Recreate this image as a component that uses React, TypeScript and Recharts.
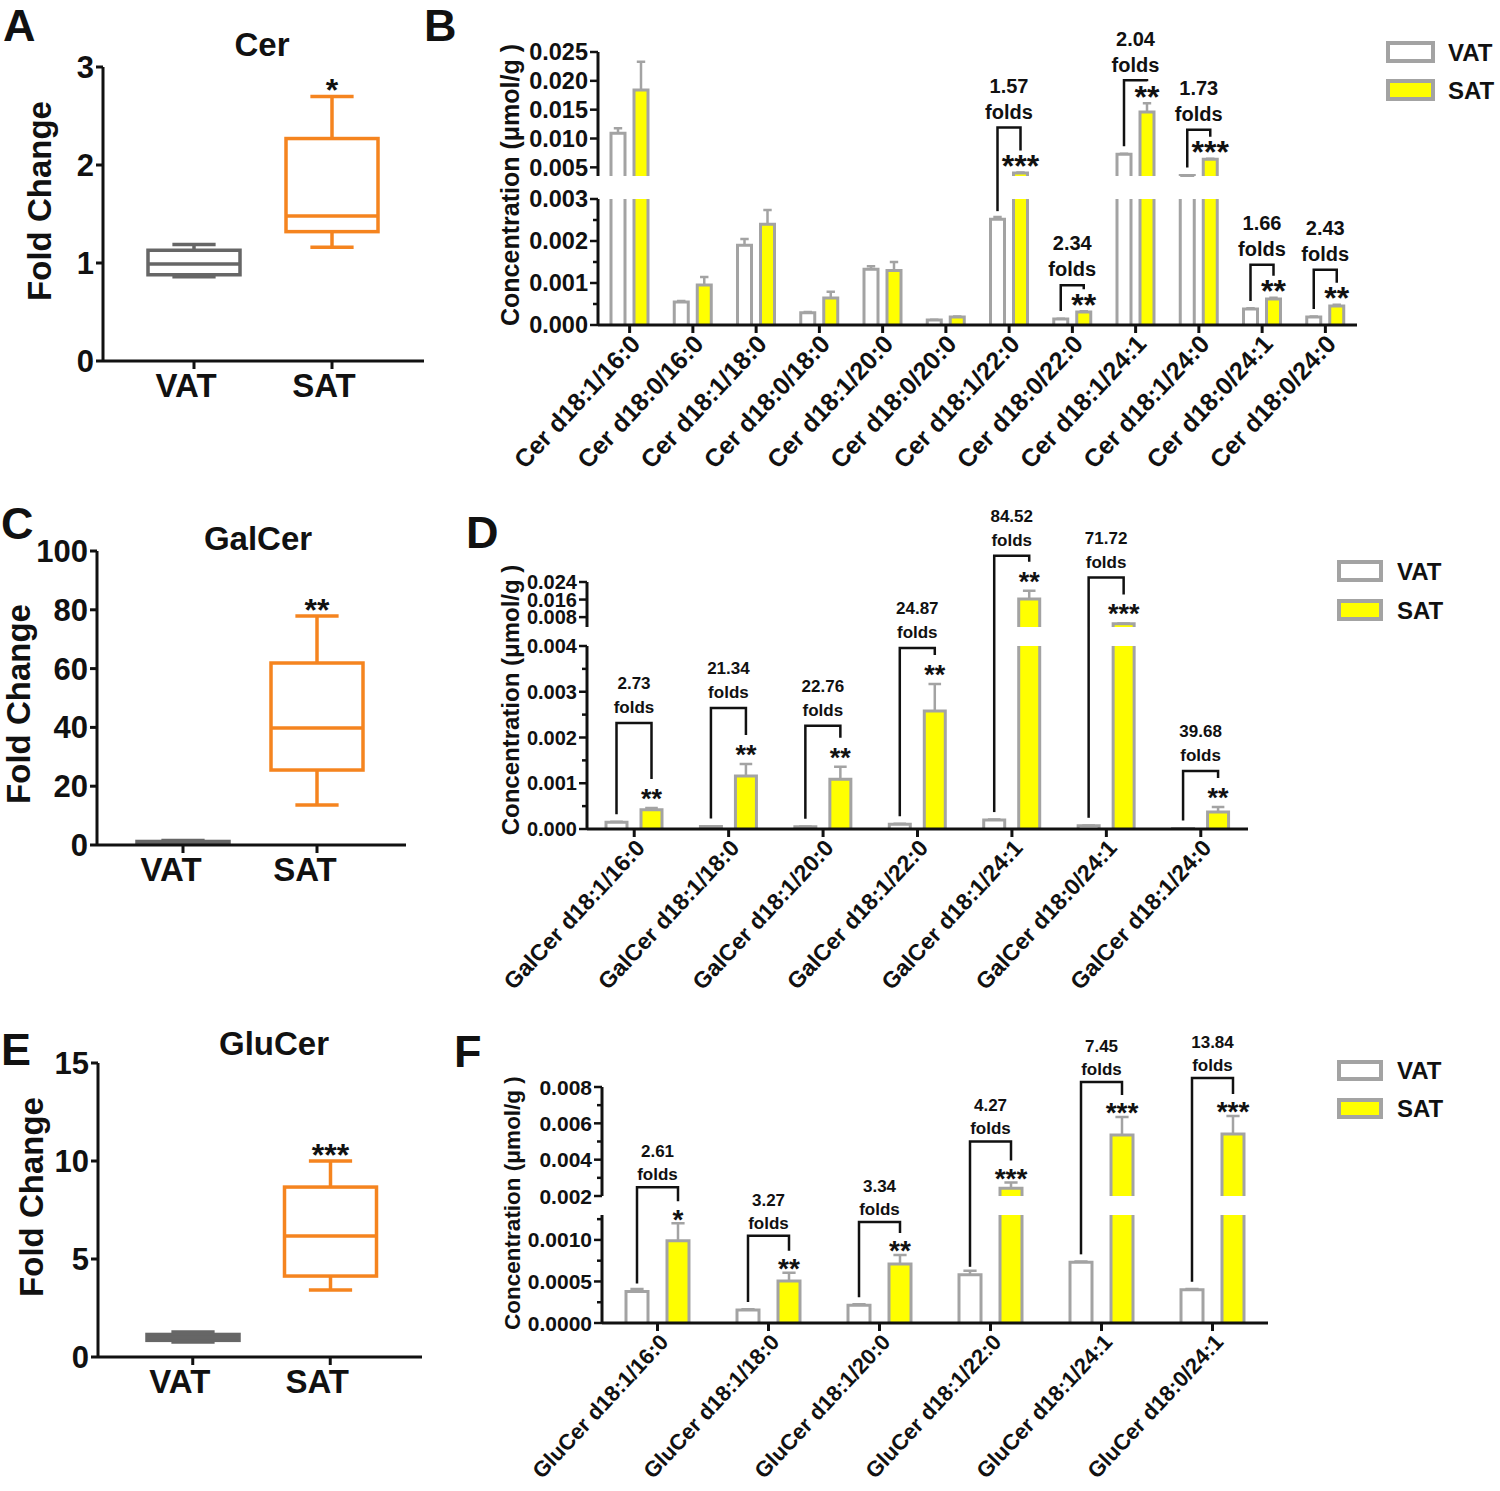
import React from "react";
import { BarChart, Bar, XAxis, YAxis, LabelList } from "recharts";

const FONT = "'Liberation Sans', Arial, Helvetica, sans-serif";
const INK = "#111111";
const EDGE = "#a3a3a3";
const YELLOW = "#ffff00";
const BOX_GRAY = "#666666";
const BOX_ORANGE = "#f5841f";

const GROUPS = ["VAT", "SAT"];

// box plots, each [min, q1, median, q3, max]
const CER_VAT_BOX = [0.86, 0.88, 0.99, 1.13, 1.19];
const CER_SAT_BOX = [1.16, 1.32, 1.48, 2.27, 2.7];
const CER_STARS = ["", "*"];
const GALCER_VAT_BOX = [0.6, 0.8, 1.0, 1.2, 1.5];
const GALCER_SAT_BOX = [13.6, 25.5, 39.8, 61.9, 77.9];
const GALCER_STARS = ["", "**"];
const GLUCER_VAT_BOX = [0.77, 0.85, 1.0, 1.15, 1.28];
const GLUCER_SAT_BOX = [3.42, 4.13, 6.17, 8.67, 10.0];
const GLUCER_STARS = ["", "***"];

// panel B: Cer species (umol/g)
const CER_SPECIES = [
  "Cer d18:1/16:0", "Cer d18:0/16:0", "Cer d18:1/18:0", "Cer d18:0/18:0",
  "Cer d18:1/20:0", "Cer d18:0/20:0", "Cer d18:1/22:0", "Cer d18:0/22:0",
  "Cer d18:1/24:1", "Cer d18:1/24:0", "Cer d18:0/24:1", "Cer d18:0/24:0",
];
const CER_VAT = [0.0109, 0.00055, 0.0019, 0.00029, 0.00133, 0.00012, 0.00252, 0.00014, 0.00726, 0.0036, 0.00038, 0.00019];
const CER_VAT_SD = [0.0009, 0.00002, 0.00015, 0.00002, 0.00007, 0.000005, 0.00005, 0.00001, 0.0001, 0.00002, 0.00002, 0.00001];
const CER_SAT = [0.0184, 0.00095, 0.0024, 0.00064, 0.0013, 0.00019, 0.004, 0.00031, 0.0146, 0.0064, 0.00062, 0.00045];
const CER_SAT_SD = [0.0049, 0.00019, 0.00034, 0.00015, 0.0002, 0.00001, 0.0001, 0.00002, 0.0015, 0.0001, 0.00003, 0.00003];
const CER_FOLDS = ["", "", "", "", "", "", "1.57", "2.34", "2.04", "1.73", "1.66", "2.43"];
const CER_SIG = ["", "", "", "", "", "", "***", "**", "**", "***", "**", "**"];

// panel D: GalCer species
const GALCER_SPECIES = [
  "GalCer d18:1/16:0", "GalCer d18:1/18:0", "GalCer d18:1/20:0", "GalCer d18:1/22:0",
  "GalCer d18:1/24:1", "GalCer d18:0/24:1", "GalCer d18:1/24:0",
];
const GALCER_VAT = [0.00015, 0.000054, 0.000048, 0.000104, 0.000195, 0.00007, 0.0000095];
const GALCER_VAT_SD = [0.00001, 0.000005, 0.000005, 0.00001, 0.00001, 0.000005, 0];
const GALCER_SAT = [0.00042, 0.00116, 0.00109, 0.00258, 0.0162, 0.005, 0.00037];
const GALCER_SAT_SD = [0.00004, 0.00026, 0.00027, 0.00059, 0.0038, 0.0001, 0.00011];
const GALCER_FOLDS = ["2.73", "21.34", "22.76", "24.87", "84.52", "71.72", "39.68"];
const GALCER_SIG = ["**", "**", "**", "**", "**", "***", "**"];

// panel F: GluCer species
const GLUCER_SPECIES = [
  "GluCer d18:1/16:0", "GluCer d18:1/18:0", "GluCer d18:1/20:0",
  "GluCer d18:1/22:0", "GluCer d18:1/24:1", "GluCer d18:0/24:1",
];
const GLUCER_VAT = [0.00038, 0.000155, 0.000215, 0.00058, 0.00073, 0.0004];
const GLUCER_VAT_SD = [0.00003, 0.00001, 0.00001, 0.00005, 0.00001, 0.00001];
const GLUCER_SAT = [0.00099, 0.000506, 0.00071, 0.00242, 0.00536, 0.00541];
const GLUCER_SAT_SD = [0.00021, 0.0001, 0.00011, 0.00033, 0.00099, 0.001];
const GLUCER_FOLDS = ["2.61", "3.27", "3.34", "4.27", "7.45", "13.84"];
const GLUCER_SIG = ["*", "**", "**", "***", "***", "***"];

// how far (px) each fold bracket sits above its SAT error bar
const CER_RISE = [0, 0, 0, 0, 0, 0, 45, 26, 23, 29, 33, 35];
const GALCER_RISE = [85, 56, 41, 36, 35, 46, 36];
const GLUCER_RISE = [36, 37, 33, 41, 35, 38];

const boxRows = (vat: number[], sat: number[], stars: string[]) =>
  GROUPS.map((g, i) => {
    const b = i === 0 ? vat : sat;
    return { group: g, range: [b[0], b[4]], min: b[0], q1: b[1], med: b[2], q3: b[3], max: b[4], stars: stars[i] };
  });

const speciesRows = (names: string[], vat: number[], vatSd: number[], sat: number[], satSd: number[], folds: string[], sig: string[]) =>
  names.map((name, i) => ({ idx: i, name, vat: vat[i], vatSd: vatSd[i], sat: sat[i], satSd: satSd[i], folds: folds[i], stars: sig[i] }));

// ---------- box plots ----------
const BoxShape = (props: any) => {
  const { x, y, width, height, payload } = props;
  if (!payload) return null;
  const { min, q1, med, q3, max } = payload;
  const py = (v: number) => y + ((max - v) / (max - min)) * height;
  const cx = x + width / 2;
  const cap = width * 0.47;
  const color = payload.group === "VAT" ? BOX_GRAY : BOX_ORANGE;
  return (
    <g stroke={color} strokeWidth={3.5} fill="none">
      <line x1={cx} x2={cx} y1={py(max)} y2={py(q3)} />
      <line x1={cx} x2={cx} y1={py(q1)} y2={py(min)} />
      <line x1={cx - cap / 2} x2={cx + cap / 2} y1={py(max)} y2={py(max)} />
      <line x1={cx - cap / 2} x2={cx + cap / 2} y1={py(min)} y2={py(min)} />
      <rect x={x} y={py(q3)} width={width} height={Math.max(py(q1) - py(q3), 0.5)} fill="#fff" />
      <line x1={x} x2={x + width} y1={py(med)} y2={py(med)} />
    </g>
  );
};

const BoxStars = (props: any) => {
  const vb = props.viewBox || props;
  if (!props.value) return null;
  const fs = 32;
  return (
    <text x={vb.x + vb.width / 2} y={vb.y - 13 + fs * 0.55} textAnchor="middle" fontSize={fs} fontWeight={700} fontFamily={FONT} fill={INK}>
      {props.value}
    </text>
  );
};

function GroupTick(props: any) {
  const { x, y, payload, dx } = props;
  return (
    <text x={x + dx} y={y} dy={26} textAnchor="middle" fontSize={33} fontWeight={700} fontFamily={FONT} fill={INK}>
      {payload.value}
    </text>
  );
}

function BoxChart(p: any) {
  const axis = { stroke: INK, strokeWidth: 3 };
  return (
    <div style={{ position: "absolute", left: p.left, top: p.top }}>
      <BarChart width={p.width} height={p.height} data={p.rows} margin={{ top: p.mt, right: p.mr, bottom: 0, left: 0 }} barSize={92}>
        <XAxis dataKey="group" padding={p.pad} height={p.xh} interval={0} tickSize={8} tickMargin={2} axisLine={axis} tickLine={axis} tick={<GroupTick dx={p.labelDx} />} />
        <YAxis type="number" domain={p.domain} ticks={p.ticks} width={p.yw} interval={0} tickSize={7} tickMargin={2} axisLine={axis} tickLine={axis}
          tick={{ fontSize: 31, fontWeight: 700, fill: INK, fontFamily: FONT }} />
        <Bar dataKey="range" shape={BoxShape} isAnimationActive={false}>
          <LabelList dataKey="stars" content={BoxStars} />
        </Bar>
      </BarChart>
    </div>
  );
}

// ---------- broken-axis bar charts ----------
function BrokenYTick(props: any) {
  const { x, y, payload, majors, digits, fs } = props;
  const v = payload.value;
  const major = majors.some((m: number) => Math.abs(m - v) < 1e-9);
  const len = major ? 8 : 5;
  return (
    <g>
      <line x1={x} x2={x - len} y1={y} y2={y} stroke={INK} strokeWidth={2.5} />
      {major && (
        <text x={x - len - 2} y={y} dy="0.36em" textAnchor="end" fontSize={fs} fontWeight={700} fontFamily={FONT} fill={INK}>
          {v.toFixed(digits)}
        </text>
      )}
    </g>
  );
}

function RotTick(props: any) {
  const { x, y, payload, fs } = props;
  const ax = x + 12;
  const ay = y + 10;
  return (
    <text x={ax} y={ay} transform={`rotate(-47 ${ax} ${ay})`} textAnchor="end" fontSize={fs} fontWeight={700} fontFamily={FONT} fill={INK}>
      {payload.value}
    </text>
  );
}

const barShape = (fill: string, valKey: string, errKey: string, cutKey: string, base: number, capW: number) => (props: any) => {
  const { x, y, width, height, payload } = props;
  if (!payload || payload[valKey] == null || !(height > 0)) return null;
  const v = payload[valKey];
  const ppu = height / (v - base);
  const cut = payload[cutKey];
  const err = payload[errKey] || 0;
  const cx = x + width / 2;
  const ey = y - err * ppu;
  const outline = cut
    ? `M${x},${y + height}V${y}M${x + width},${y}V${y + height}`
    : `M${x},${y + height}V${y}H${x + width}V${y + height}`;
  return (
    <g>
      <rect x={x} y={y} width={width} height={height} fill={fill} />
      <path d={outline} stroke={EDGE} strokeWidth={3} fill="none" />
      {!cut && err > 0 && (
        <path d={`M${cx},${y}V${ey}M${cx - capW / 2},${ey}H${cx + capW / 2}`} stroke={EDGE} strokeWidth={2.5} fill="none" />
      )}
    </g>
  );
};

function annoMarks(cx: number, vx: number, tip: number, rise: number, leftBottom: number, r: any, c: any) {
  const top = tip - rise;
  const mid = (cx + vx) / 2;
  const txt = { textAnchor: "middle" as const, fontWeight: 700, fontFamily: FONT, fill: INK };
  return (
    <g>
      <path d={`M${vx},${leftBottom}V${top}H${cx}V${tip - c.legOff}`} stroke={INK} strokeWidth={2.5} fill="none" />
      <text x={mid} y={top - c.numGap + c.fs * 0.36} fontSize={c.fs} {...txt}>{r.folds}</text>
      <text x={mid} y={top - c.foldsGap + c.fs * 0.36} fontSize={c.fs} {...txt}>folds</text>
      <text x={cx} y={tip - c.starOff + c.starFs * 0.55} fontSize={c.starFs} {...txt}>{r.stars}</text>
    </g>
  );
}

function BrokenBars(p: any) {
  const rows = p.rows;
  const tMin = p.topDomain[0];
  const bMax = p.botDomain[1];
  const gap = p.botPlot[0] - p.topPlot[1];
  const step = p.barSize + p.barGap;
  const c = p.anno;
  const capW = p.barSize * 0.6;

  const topRows = rows.map((r: any) => ({
    ...r,
    vat: r.vat >= tMin ? r.vat : null,
    sat: r.sat >= tMin ? r.sat : null,
    vatCut: false,
    satCut: false,
  }));
  const botRows = rows.map((r: any) => ({
    ...r,
    vat: Math.min(r.vat, bMax),
    sat: Math.min(r.sat, bMax),
    vatCut: r.vat > bMax,
    satCut: r.sat > bMax,
  }));

  const topAnno = (props: any) => {
    const vb = props.viewBox || props;
    const r = rows[props.value];
    if (!r || !r.folds || r.sat <= bMax) return null;
    const base = vb.y + vb.height;
    const ppu = vb.height / (r.sat - tMin);
    const cx = vb.x + vb.width / 2;
    const tip = vb.y - r.satSd * ppu;
    const leftBottom = r.vat >= tMin ? base - (r.vat - tMin) * ppu - c.vatDrop : base;
    return annoMarks(cx, cx - step, tip, p.rises[r.idx], leftBottom, r, c);
  };

  const botAnno = (props: any) => {
    const vb = props.viewBox || props;
    const r = rows[props.value];
    if (!r || !r.folds || r.sat > bMax || !(vb.height > 0)) return null;
    const base = vb.y + vb.height;
    const ppu = vb.height / r.sat;
    const cx = vb.x + vb.width / 2;
    const tip = vb.y - r.satSd * ppu;
    const leftBottom = base - r.vat * ppu - c.vatDrop;
    return annoMarks(cx, cx - step, tip, p.rises[r.idx], leftBottom, r, c);
  };

  // lower piece of a bracket leg whose SAT bar sits in the upper segment
  const botLeg = (props: any) => {
    const vb = props.viewBox || props;
    const r = rows[props.value];
    if (!r || !r.folds || r.sat <= bMax || r.vat >= tMin || !(vb.height > 0)) return null;
    const base = vb.y + vb.height;
    const ppu = vb.height / r.vat;
    const plotTop = base - bMax * ppu;
    const cx = vb.x + vb.width / 2;
    return <path d={`M${cx},${vb.y - c.vatDrop}V${plotTop - gap}`} stroke={INK} strokeWidth={2.5} fill="none" />;
  };

  const axis = { stroke: INK, strokeWidth: 3 };
  const wrap = { position: "absolute" as const, left: 0, top: 0 };
  const common = { width: p.width, barSize: p.barSize, barGap: p.barGap };

  return (
    <div style={{ position: "absolute", left: p.left, top: p.top, width: p.width, height: p.height }}>
      <div style={wrap}>
        <BarChart {...common} height={p.height} data={botRows}
          margin={{ top: p.botPlot[0] - p.top, right: p.mr, bottom: 0, left: 0 }}>
          <XAxis dataKey="name" interval={0} height={p.top + p.height - p.botPlot[1]} tickSize={8} tickMargin={2}
            axisLine={axis} tickLine={axis} tick={<RotTick fs={p.labelFs} />} />
          <YAxis type="number" domain={p.botDomain} ticks={[...p.botMajor, ...p.botMinor]} width={p.yw} interval={0}
            tickSize={0} tickMargin={0} tickLine={false} axisLine={axis}
            tick={<BrokenYTick majors={p.botMajor} digits={p.botDigits} fs={p.tickFs} />} />
          <Bar dataKey="vat" isAnimationActive={false} shape={barShape("#ffffff", "vat", "vatSd", "vatCut", 0, capW)}>
            <LabelList dataKey="idx" content={botLeg} />
          </Bar>
          <Bar dataKey="sat" isAnimationActive={false} shape={barShape(YELLOW, "sat", "satSd", "satCut", 0, capW)}>
            <LabelList dataKey="idx" content={botAnno} />
          </Bar>
        </BarChart>
      </div>
      <div style={wrap}>
        <BarChart {...common} height={p.height} data={topRows}
          margin={{ top: p.topPlot[0] - p.top, right: p.mr, bottom: p.top + p.height - p.topPlot[1], left: 0 }}>
          <XAxis dataKey="name" hide />
          <YAxis type="number" domain={p.topDomain} ticks={[...p.topMajor, ...p.topMinor]} width={p.yw} interval={0}
            tickSize={0} tickMargin={0} tickLine={false} axisLine={axis}
            tick={<BrokenYTick majors={p.topMajor} digits={p.topDigits} fs={p.tickFs} />} />
          <Bar dataKey="vat" isAnimationActive={false} shape={barShape("#ffffff", "vat", "vatSd", "vatCut", tMin, capW)} />
          <Bar dataKey="sat" isAnimationActive={false} shape={barShape(YELLOW, "sat", "satSd", "satCut", tMin, capW)}>
            <LabelList dataKey="idx" content={topAnno} />
          </Bar>
        </BarChart>
      </div>
    </div>
  );
}

// ---------- titles, axis names and legends ----------
function LegendMarks({ x, y, w, h, dy, textX, fs }: any) {
  const t = { fontSize: fs, fontWeight: 700, fontFamily: FONT, fill: INK };
  return (
    <g>
      {GROUPS.map((g, i) => (
        <g key={g}>
          <rect x={x} y={y + i * dy} width={w} height={h} fill={i === 0 ? "#ffffff" : YELLOW} stroke={EDGE} strokeWidth={4} />
          <text x={textX} y={y + i * dy + h / 2} dy="0.36em" {...t}>{g}</text>
        </g>
      ))}
    </g>
  );
}

function Overlay() {
  const b = { fontWeight: 700, fontFamily: FONT, fill: INK };
  const letters: [string, number, number][] = [["A", 3, 41], ["B", 424, 41], ["C", 1, 539], ["D", 466, 548], ["E", 1, 1065], ["F", 454, 1067]];
  const titles: [string, number, number][] = [["Cer", 262, 56], ["GalCer", 258, 550], ["GluCer", 274, 1055]];
  const foldLabels: [number, number][] = [[51, 201], [30, 704], [43, 1197]];
  const concLabels: [number, number, number][] = [[519, 185, 25], [519, 700, 24], [520, 1203, 22.5]];
  return (
    <svg width={1500} height={1491} style={{ position: "absolute", left: 0, top: 0, pointerEvents: "none" }}>
      {letters.map(([t, x, y]) => (
        <text key={t} x={x} y={y} fontSize={45} {...b}>{t}</text>
      ))}
      {titles.map(([t, x, y]) => (
        <text key={t} x={x} y={y} fontSize={33} textAnchor="middle" {...b}>{t}</text>
      ))}
      {foldLabels.map(([x, y]) => (
        <text key={y} x={x} y={y} fontSize={33} textAnchor="middle" transform={`rotate(-90 ${x} ${y})`} {...b}>Fold Change</text>
      ))}
      {concLabels.map(([x, y, fs]) => (
        <text key={y} x={x} y={y} fontSize={fs} textAnchor="middle" transform={`rotate(-90 ${x} ${y})`} {...b}>Concentration (μmol/g )</text>
      ))}
      <LegendMarks x={1388} y={43} w={45} h={18} dy={38} textX={1448} fs={24} />
      <LegendMarks x={1339} y={562} w={42} h={18} dy={39} textX={1397} fs={24} />
      <LegendMarks x={1339} y={1062} w={42} h={17} dy={38} textX={1397} fs={24} />
    </svg>
  );
}

export default function App() {
  const cerRows = speciesRows(CER_SPECIES, CER_VAT, CER_VAT_SD, CER_SAT, CER_SAT_SD, CER_FOLDS, CER_SIG);
  const galRows = speciesRows(GALCER_SPECIES, GALCER_VAT, GALCER_VAT_SD, GALCER_SAT, GALCER_SAT_SD, GALCER_FOLDS, GALCER_SIG);
  const gluRows = speciesRows(GLUCER_SPECIES, GLUCER_VAT, GLUCER_VAT_SD, GLUCER_SAT, GLUCER_SAT_SD, GLUCER_FOLDS, GLUCER_SIG);

  return (
    <div style={{ position: "absolute", left: 0, top: 0, width: 1500, height: 1491, background: "#fff", overflow: "hidden", fontFamily: FONT }}>
      <BoxChart left={0} top={0} width={440} height={420} yw={103} mr={16} mt={67} xh={59} pad={{ left: 22, right: 23 }}
        rows={boxRows(CER_VAT_BOX, CER_SAT_BOX, CER_STARS)} domain={[0, 3]} ticks={[0, 1, 2, 3]} labelDx={-8} />
      <BoxChart left={0} top={490} width={440} height={420} yw={97} mr={34} mt={61} xh={65} pad={{ left: 19, right: 22 }}
        rows={boxRows(GALCER_VAT_BOX, GALCER_SAT_BOX, GALCER_STARS)} domain={[0, 100]} ticks={[0, 20, 40, 60, 80, 100]} labelDx={-12} />
      <BoxChart left={0} top={1000} width={440} height={420} yw={98} mr={18} mt={63} xh={63} pad={{ left: 26, right: 23 }}
        rows={boxRows(GLUCER_VAT_BOX, GLUCER_SAT_BOX, GLUCER_STARS)} domain={[0, 15]} ticks={[0, 5, 10, 15]} labelDx={-13} />

      <BrokenBars rows={cerRows} left={480} top={0} width={900} height={490} yw={118} mr={23}
        topPlot={[52, 176]} botPlot={[199, 325]} topDomain={[0.0035, 0.025]} botDomain={[0, 0.003]}
        topMajor={[0.005, 0.01, 0.015, 0.02, 0.025]} topMinor={[]} botMajor={[0, 0.001, 0.002, 0.003]} botMinor={[0.0005, 0.0015, 0.0025]}
        topDigits={3} botDigits={3} tickFs={23.5} labelFs={25} barSize={14} barGap={9} rises={CER_RISE}
        anno={{ fs: 20, starFs: 32, starOff: 13, legOff: 22, foldsGap: 16, numGap: 42, vatDrop: 8 }} />

      <BrokenBars rows={galRows} left={470} top={490} width={800} height={510} yw={117} mr={22}
        topPlot={[582, 627]} botPlot={[646, 829]} topDomain={[0.0035, 0.024]} botDomain={[0, 0.004]}
        topMajor={[0.008, 0.016, 0.024]} topMinor={[]} botMajor={[0, 0.001, 0.002, 0.003, 0.004]} botMinor={[0.0005, 0.0015, 0.0025, 0.0035]}
        topDigits={3} botDigits={3} tickFs={20} labelFs={23} barSize={21} barGap={14} rises={GALCER_RISE}
        anno={{ fs: 17, starFs: 27, starOff: 15, legOff: 29, foldsGap: 16, numGap: 40, vatDrop: 8 }} />

      <BrokenBars rows={gluRows} left={470} top={1000} width={820} height={491} yw={132} mr={22}
        topPlot={[1087, 1196]} botPlot={[1215, 1323]} topDomain={[0.002, 0.008]} botDomain={[0, 0.0013]}
        topMajor={[0.002, 0.004, 0.006, 0.008]} topMinor={[0.003, 0.005, 0.007]} botMajor={[0, 0.0005, 0.001]} botMinor={[0.00025, 0.00075, 0.00125]}
        topDigits={3} botDigits={4} tickFs={21} labelFs={22} barSize={22} barGap={19} rises={GLUCER_RISE}
        anno={{ fs: 17, starFs: 28, starOff: 10, legOff: 22, foldsGap: 13, numGap: 36, vatDrop: 8 }} />

      <Overlay />
    </div>
  );
}
